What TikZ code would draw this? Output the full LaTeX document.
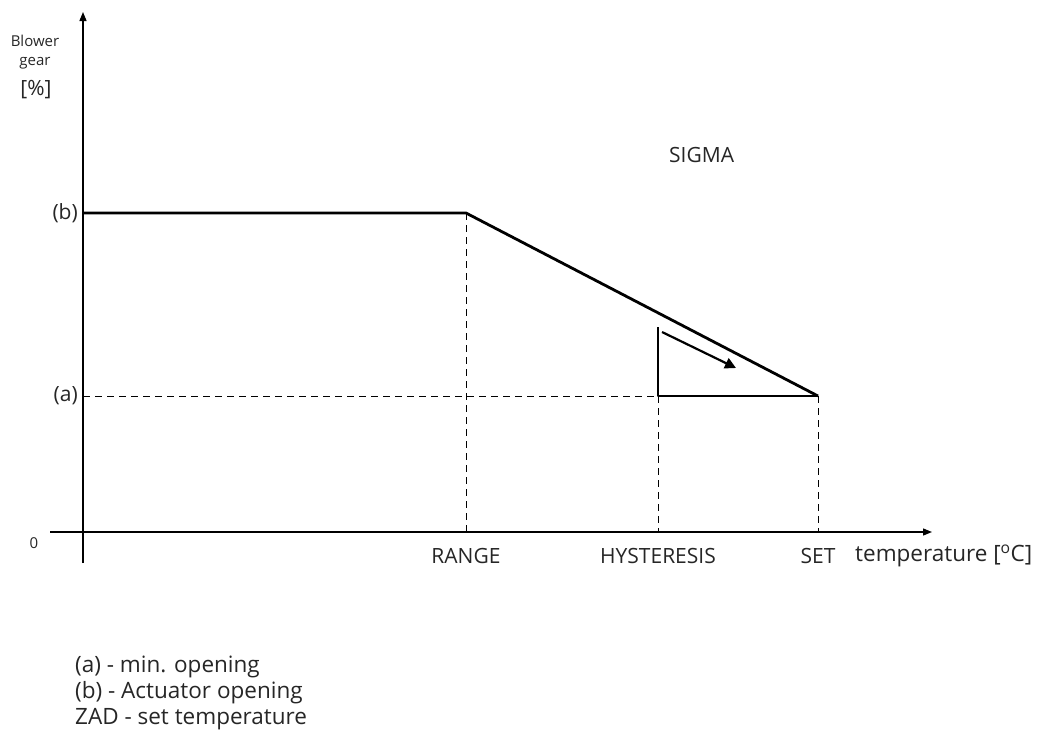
\documentclass[tikz,border=0pt]{standalone}
\usepackage{fontspec}
\setmainfont{Open Sans}
\usetikzlibrary{arrows.meta}

\tikzset{
    axis/.style={line width=1.3pt, -{Triangle[length=9pt,width=7pt]}},
    curve/.style={line width=2.8pt, line join=round},
    guide/.style={line width=0.9pt, dash pattern=on 7pt off 5pt},
    lbl/.style={font=\fontsize{21}{24}\selectfont, inner sep=0pt, text=black!85},
    legend/.style={font=\fontsize{22.5}{26}\selectfont, inner sep=0pt, text=black!85, anchor=west},
}

\begin{document}
\begin{tikzpicture}[x=1pt, y=-1pt]
    \useasboundingbox (0,0) rectangle (1051,745);

    % --- Axes ---
    \coordinate (o) at (83,532);
    \coordinate (ybot) at (83,563); \coordinate (ytop) at (83,12);
    \coordinate (xleft) at (50,532); \coordinate (xright) at (932,532);
    \draw[axis] (ybot) -- (ytop);
    \draw[axis] (xleft) -- (xright);

    % --- Characteristic points ---
    \coordinate (b0) at (83,213);
    \coordinate (range) at (466,213);
    \coordinate (set) at (818,396);
    \coordinate (a0) at (83,396);
    \coordinate (hyst) at (658,396);
    \coordinate (htop) at (658,327);

    % Guides
    \draw[guide] (a0) -- (hyst);
    \draw[guide] (range) -- (range |- o);
    \draw[guide] (hyst) -- (hyst |- o);
    \draw[guide] (set) -- (set |- o);

    % Curve
    \draw[curve] (b0) -- (range) -- (set);
    \draw[curve] (htop) -- (hyst) -- (set);

    % Arrow inside triangle
    \coordinate (arrA) at (662,332); \coordinate (arrB) at (736,368);
    \draw[line width=2.2pt, -{Triangle[length=11pt,width=11pt]}] (arrA) -- (arrB);

    % --- Labels ---
    \node[lbl, font=\fontsize{15}{17}\selectfont] (ylab1) at (35,41) {Blower};
    \node[lbl, font=\fontsize{15}{17}\selectfont] (ylab2) at (35,63) {gear};
    \node[lbl] (ylab3) at (36,90) {[\%]};
    \node[lbl, anchor=east] (lb) at (78,213) {(b)};
    \node[lbl, anchor=east] (la) at (78,396) {(a)};
    \node[lbl, font=\fontsize{15}{17}\selectfont] (lzero) at (34,543) {0};

    \node[lbl] (lrange) at (range |- 0,556) {RANGE};
    \node[lbl] (lhyst) at (hyst |- 0,556) {HYSTERESIS};
    \node[lbl] (lset) at (set |- 0,556) {SET};
    \node[lbl, anchor=west, font=\fontsize{22.5}{26}\selectfont] (ltemp) at (855,556) {temperature [\textsuperscript{o}C]};
    \node[lbl, anchor=west] (lsigma) at (669,155) {SIGMA};

    % Legend
    \node[legend] (leg1) at (75,667) {(a) - min. opening};
    \node[legend] (leg2) at (75,693) {(b) - Actuator opening};
    \node[legend] (leg3) at (75,719) {ZAD - set temperature};
\end{tikzpicture}
\end{document}
